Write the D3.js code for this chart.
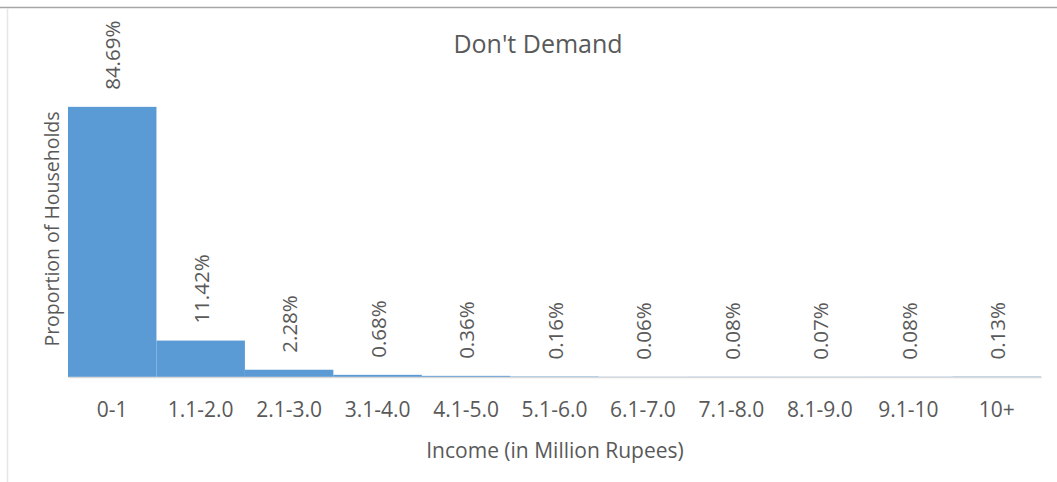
<!DOCTYPE html>
<html>
<head>
<meta charset="utf-8">
<script src="https://cdn.jsdelivr.net/npm/d3@7"></script>
<style>
  html, body { margin: 0; padding: 0; background: #fff; }
  svg { display: block; }
  text { font-family: "Open Sans", sans-serif; fill: #595959; }
</style>
</head>
<body>
<div id="chart"></div>
<script>
const categories = ["0-1", "1.1-2.0", "2.1-3.0", "3.1-4.0", "4.1-5.0", "5.1-6.0", "6.1-7.0", "7.1-8.0", "8.1-9.0", "9.1-10", "10+"];
const values = [84.69, 11.42, 2.28, 0.68, 0.36, 0.16, 0.06, 0.08, 0.07, 0.08, 0.13];
const valueLabels = ["84.69%", "11.42%", "2.28%", "0.68%", "0.36%", "0.16%", "0.06%", "0.08%", "0.07%", "0.08%", "0.13%"];
const chartTitle = "Don't Demand";
const xTitle = "Income (in Million Rupees)";
const yTitle = "Proportion of Households";

const W = 1057, H = 482;
const svg = d3.select("#chart").append("svg").attr("width", W).attr("height", H);

// outer frame
svg.append("line").attr("x1", 0).attr("x2", W).attr("y1", 7.5).attr("y2", 7.5)
  .attr("stroke", "#a6a6a6").attr("stroke-width", 1.5);
svg.append("line").attr("x1", 7.5).attr("x2", 7.5).attr("y1", 8).attr("y2", H)
  .attr("stroke", "#e6e6e6").attr("stroke-width", 1.5);

const x = d3.scaleBand().domain(categories).range([68, 1041]).paddingInner(0).paddingOuter(0);
const y = d3.scaleLinear().domain([0, 100]).range([377, 58]);

// bars
svg.append("g").selectAll("rect").data(values).join("rect")
  .attr("x", (d, i) => x(categories[i]))
  .attr("width", x.bandwidth())
  .attr("y", d => y(d))
  .attr("height", d => y(0) - y(d))
  .attr("fill", "#5b9bd5");

// x axis
const xAxis = svg.append("g").attr("transform", `translate(0,${y(0)})`)
  .call(d3.axisBottom(x).tickSize(0).tickPadding(0));
xAxis.select(".domain").attr("stroke", "#d9d9d9").attr("stroke-width", 1.5);
xAxis.selectAll(".tick text")
  .attr("y", 40).attr("dy", 0)
  .style("font-family", '"Open Sans", sans-serif')
  .style("font-size", "21px").style("fill", "#595959");

// value labels
svg.append("g").selectAll("text").data(values).join("text")
  .attr("transform", (d, i) => `translate(${x(categories[i]) + x.bandwidth() / 2 + 1},${y(d) - 17}) rotate(-90)`)
  .attr("dy", "0.35em")
  .attr("text-anchor", "start")
  .style("font-size", "20.5px")
  .text((d, i) => valueLabels[i]);

// title
svg.append("text").attr("x", 538).attr("y", 53).attr("text-anchor", "middle")
  .style("font-size", "25px").text(chartTitle);

// axis titles
svg.append("text").attr("x", 555).attr("y", 458).attr("text-anchor", "middle")
  .style("font-size", "21px").text(xTitle);
svg.append("text").attr("transform", "translate(59,229) rotate(-90)")
  .attr("text-anchor", "middle").style("font-size", "19.5px").text(yTitle);
</script>
</body>
</html>
